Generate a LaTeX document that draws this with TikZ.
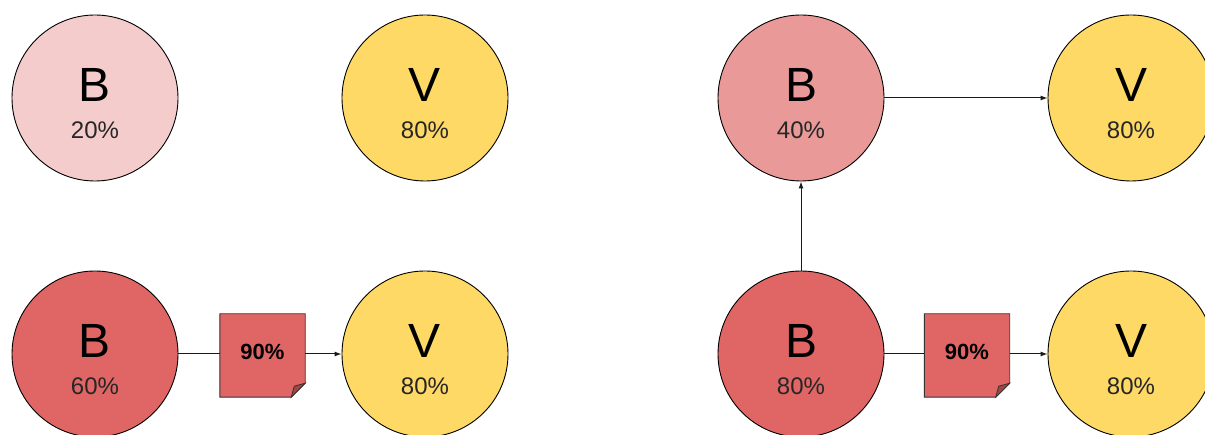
\documentclass[tikz,border=0pt]{standalone}
\usepackage{fontspec}
\setmainfont{Liberation Sans}
\usetikzlibrary{arrows.meta}
\definecolor{pinkA}{HTML}{F4CCCC}
\definecolor{pinkB}{HTML}{EA9999}
\definecolor{redC}{HTML}{E06666}
\definecolor{yelD}{HTML}{FFD966}
\tikzset{
  circ/.style={circle, draw=black, line width=0.9pt, minimum size=166pt, inner sep=0pt},
  bigl/.style={anchor=base, inner sep=0pt, font=\fontsize{48}{48}\selectfont},
  pct/.style={anchor=base, inner sep=0pt, font=\fontsize{24}{24}\selectfont, text=black!85},
  notebox/.style={rectangle, minimum width=85pt, minimum height=83pt, inner sep=0pt, font=\bfseries\fontsize{22}{22}\selectfont},
  conn/.style={line width=1pt, draw=black!90},
  arr/.style={conn, -{Latex[length=7pt,width=5pt]}}
}
\newcommand{\notedraw}[1]{%
  \fill[redC] (#1.north west) -- (#1.north east) -- ([yshift=14pt]#1.south east) -- ([xshift=-14pt]#1.south east) -- (#1.south west) -- cycle;
  \draw[line width=0.9pt, black!80] (#1.north west) -- (#1.north east) -- ([yshift=14pt]#1.south east) -- ([xshift=-14pt]#1.south east) -- (#1.south west) -- cycle;
  \draw[line width=0.8pt, black!80, fill=redC!70!black] ([yshift=14pt]#1.south east) -- ([xshift=-14pt]#1.south east) -- ([xshift=-11pt,yshift=11pt]#1.south east) -- cycle;
}
\begin{document}
\begin{tikzpicture}[x=1pt,y=-1pt]
\useasboundingbox (0,0) rectangle (1205,435);
% circles
\node[circ, fill=pinkA] (b1) at (95,98) {};
\node[circ, fill=yelD] (v1) at (425,98) {};
\node[circ, fill=redC] (b2) at (95,354) {};
\node[circ, fill=yelD] (v2) at (425,354) {};
\node[circ, fill=pinkB] (b3) at (801,98) {};
\node[circ, fill=yelD] (v3) at (1131,98) {};
\node[circ, fill=redC] (b4) at (801,354) {};
\node[circ, fill=yelD] (v4) at (1131,354) {};
% labels
\node[bigl] (tb1) at (95,102) {B};
\node[pct] (pb1) at (95,139) {20\%};
\node[bigl] (tv1) at (425,102) {V};
\node[pct] (pv1) at (425,139) {80\%};
\node[bigl] (tb2) at (95,358) {B};
\node[pct] (pb2) at (95,395) {60\%};
\node[bigl] (tv2) at (425,358) {V};
\node[pct] (pv2) at (425,395) {80\%};
\node[bigl] (tb3) at (801,102) {B};
\node[pct] (pb3) at (801,139) {40\%};
\node[bigl] (tv3) at (1131,102) {V};
\node[pct] (pv3) at (1131,139) {80\%};
\node[bigl] (tb4) at (801,358) {B};
\node[pct] (pb4) at (801,395) {80\%};
\node[bigl] (tv4) at (1131,358) {V};
\node[pct] (pv4) at (1131,395) {80\%};
% notes
\node[notebox] (n1) at (262.5,355.5) {};
\notedraw{n1}
\node[notebox] (n1t) at (262.5,352) {90\%};
\node[notebox] (n2) at (967,355.5) {};
\notedraw{n2}
\node[notebox] (n2t) at (967,352) {90\%};
% connectors
\draw[conn] (b2.east) -- (b2.east -| n1.west);
\draw[arr] (b2.east -| n1.east) -- (v2.west);
\draw[conn] (b4.east) -- (b4.east -| n2.west);
\draw[arr] (b4.east -| n2.east) -- (v4.west);
\draw[arr] (b3.east) -- (v3.west);
\draw[arr] (b4.north) -- (b3.south);
\end{tikzpicture}
\end{document}
